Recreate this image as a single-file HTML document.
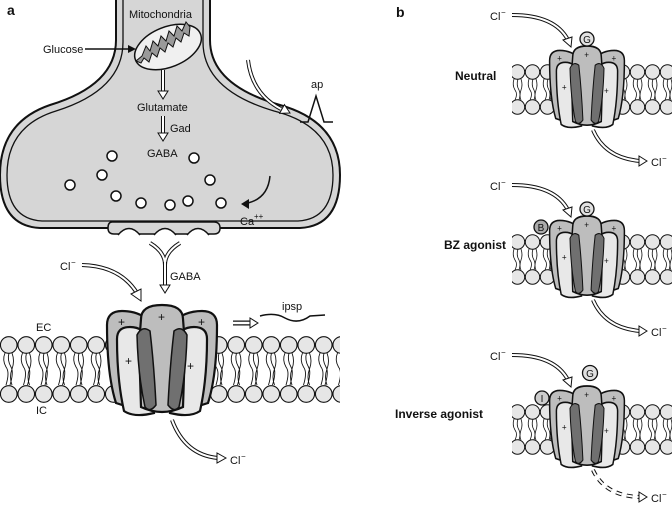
<!DOCTYPE html>
<html><head><style>
body{margin:0;background:#fff}
svg{display:block}
text{font-family:"Liberation Sans",sans-serif;fill:#111}
</style></head><body>
<svg width="672" height="515" viewBox="0 0 672 515" xmlns="http://www.w3.org/2000/svg">
<defs>
<pattern id="memA" x="0" y="336" width="17.5" height="68" patternUnits="userSpaceOnUse">
<circle cx="8.75" cy="9" r="8.3" fill="#e6e6e6" stroke="#111" stroke-width="1.1"/>
<circle cx="8.75" cy="58" r="8.3" fill="#e6e6e6" stroke="#111" stroke-width="1.1"/>
<path d="M5 17 q-3 7 1 14 q4 5 0 18 M9 17 q-2 7 2 14 q3 5 -1 18 M12 17 q3 8 0 16 q-3 8 0 16" fill="none" stroke="#111" stroke-width="0.9"/>
</pattern>
<pattern id="memB" x="0" y="64" width="15" height="52" patternUnits="userSpaceOnUse">
<circle cx="7.5" cy="8" r="7.2" fill="#e6e6e6" stroke="#111" stroke-width="1"/>
<circle cx="7.5" cy="43" r="7.2" fill="#e6e6e6" stroke="#111" stroke-width="1"/>
<path d="M4 15 q-2 6 1 11 q3 4 0 10 M8 15 q-2 6 1 11 q2 4 0 10 M11 15 q2 6 0 11 q-2 6 0 10" fill="none" stroke="#111" stroke-width="0.8"/>
</pattern>
<g id="ch">
<path d="M-55 20 Q-55 6 -40 6 Q-22 6 -10 18 L-10 102 Q-30 104 -46 98 Q-55 70 -55 20Z" fill="#bdbdbd" stroke="#111" stroke-width="2.2"/>
<path d="M55 20 Q55 6 40 6 Q22 6 10 18 L10 102 Q30 104 46 98 Q55 70 55 20Z" fill="#bdbdbd" stroke="#111" stroke-width="2.2"/>
<path d="M-45 34 Q-45 22 -32 22 Q-18 22 -12 36 L-8 108 Q-28 113 -38 106 Q-45 75 -45 34Z" fill="#e8e8e8" stroke="#111" stroke-width="2.2"/>
<path d="M45 34 Q45 22 32 22 Q18 22 12 36 L8 108 Q28 113 38 106 Q45 75 45 34Z" fill="#e8e8e8" stroke="#111" stroke-width="2.2"/>
<path d="M-21 14 Q-21 0 0 0 Q21 0 21 14 L23 40 L21 102 Q0 112 -21 102 L-23 40Z" fill="#bdbdbd" stroke="#111" stroke-width="2.2"/>
<path d="M-25 30 Q-20 20 -12 26 Q-8 60 -6 100 Q-12 108 -17 102 Q-24 70 -25 30Z" fill="#707070" stroke="#111" stroke-width="1.5"/>
<path d="M25 30 Q20 20 12 26 Q8 60 6 100 Q12 108 17 102 Q24 70 25 30Z" fill="#707070" stroke="#111" stroke-width="1.5"/>
<text x="-44" y="21" font-size="12" fill="#333">+</text>
<text x="36" y="21" font-size="12" fill="#333">+</text>
<text x="-4" y="16" font-size="12" fill="#333">+</text>
<text x="-37" y="60" font-size="12" fill="#333">+</text>
<text x="25" y="65" font-size="12" fill="#333">+</text>
</g>
</defs>

<!-- panel a terminal -->
<path d="M116 0 L116 40 Q116 85 50 105 Q0 122 0 175 Q0 226 40 228 L300 228 Q340 226 340 175 Q340 122 280 105 Q210 85 210 40 L210 0" fill="#d6d6d6" stroke="#111" stroke-width="2"/>
<path d="M123 0 L123 42 Q123 90 56 111 Q7 126 7 175 Q7 219 42 221 L298 221 Q333 219 333 175 Q333 126 274 111 Q203 90 203 42 L203 0" fill="#d6d6d6" stroke="#111" stroke-width="1.3"/>
<path d="M112 222 Q108 222 108 228 Q108 234 114 234 L214 234 Q220 234 220 228 Q220 222 214 222Z" fill="#d6d6d6" stroke="#111" stroke-width="1.5"/>
<path d="M118 235 q11 -13 22 0 M154 235 q11 -13 22 0 M187 235 q11 -13 22 0" fill="#fff" stroke="#111" stroke-width="1.5"/>
<text x="129" y="18" font-size="11">Mitochondria</text>
<ellipse cx="168" cy="47" rx="35" ry="20" transform="rotate(-22 168 47)" fill="#f0f0f0" stroke="#111" stroke-width="1.5"/>
<path d="M142 56 l4 -10 4 5 3 -10 5 5 3 -10 5 5 3 -10 5 5 3 -10 5 5 4 -9 4 5 -1 9 -5 -3 -3 9 -5 -4 -3 9 -5 -4 -3 9 -5 -4 -3 9 -5 -4 -3 9 -5 -4 -3 5 -5 -2Z" fill="#9a9a9a" stroke="#111" stroke-width="1"/>
<text x="43" y="53" font-size="11">Glucose</text>
<path d="M85 49 L130 49" stroke="#111" stroke-width="1.5"/>
<polygon points="136,49 128,45 128,53" fill="#111"/>
<path d="M163 70 L163 92" stroke="#111" stroke-width="4"/><path d="M163 70 L163 92" stroke="#fff" stroke-width="2"/>
<polygon points="163,99 158,91 168,91" fill="#fff" stroke="#111"/>
<text x="137" y="111" font-size="11">Glutamate</text>
<path d="M163 116 L163 134" stroke="#111" stroke-width="4"/><path d="M163 116 L163 134" stroke="#fff" stroke-width="2"/>
<polygon points="163,141 158,133 168,133" fill="#fff" stroke="#111"/>
<text x="170" y="132" font-size="11">Gad</text>
<text x="147" y="157" font-size="11">GABA</text>
<g fill="#fff" stroke="#111" stroke-width="1.5">
<circle cx="70" cy="185" r="5"/><circle cx="102" cy="175" r="5"/><circle cx="112" cy="156" r="5"/><circle cx="116" cy="196" r="5"/>
<circle cx="141" cy="203" r="5"/><circle cx="170" cy="205" r="5"/><circle cx="188" cy="201" r="5"/><circle cx="194" cy="158" r="5"/>
<circle cx="210" cy="180" r="5"/><circle cx="221" cy="203" r="5"/>
</g>
<path d="M270 176 Q268 198 248 203" fill="none" stroke="#111" stroke-width="1.5"/>
<polygon points="241,204 249,199 249,209" fill="#111"/>
<text x="240" y="225" font-size="11">Ca</text><text x="254" y="219" font-size="8">++</text>
<path d="M248 60 Q252 94 281 109" fill="none" stroke="#111" stroke-width="4"/><path d="M248 60 Q252 94 281 109" fill="none" stroke="#fff" stroke-width="2"/>
<polygon points="290,113 279.6,113.4 284.4,104.6" fill="#fff" stroke="#111"/>
<text x="311" y="88" font-size="11">ap</text>
<path d="M300 122 L308 122 L316 96 L324 122 L333 122" fill="none" stroke="#111" stroke-width="1.5"/>
<!-- GABA receptor Y -->
<path d="M150 243 Q165 252 165 265 M180 243 Q165 252 165 265" fill="none" stroke="#111" stroke-width="4"/>
<path d="M150 243 Q165 252 165 265 M180 243 Q165 252 165 265" fill="none" stroke="#fff" stroke-width="2"/>
<path d="M165 262 L165 286" stroke="#111" stroke-width="4"/><path d="M165 262 L165 286" stroke="#fff" stroke-width="2"/>
<polygon points="165,293 160,285 170,285" fill="#fff" stroke="#111"/>
<text x="170" y="280" font-size="11">GABA</text>
<text x="60" y="270" font-size="11">Cl</text><text x="71" y="265" font-size="8">−</text>
<path d="M82 265 Q120 266 137 293" fill="none" stroke="#111" stroke-width="4"/><path d="M82 265 Q120 266 137 293" fill="none" stroke="#fff" stroke-width="2"/>
<polygon points="141,301 131,294 141,289" fill="#fff" stroke="#111"/>
<!-- membrane a -->
<rect x="0" y="336" width="340" height="68" fill="url(#memA)"/>
<text x="36" y="331" font-size="11">EC</text>
<text x="36" y="414" font-size="11">IC</text>
<use href="#ch" transform="translate(162 305)"/>
<path d="M233 323 L252 323" stroke="#111" stroke-width="5"/><path d="M233 323 L252 323" stroke="#fff" stroke-width="2.5"/>
<polygon points="258,323 250,318 250,328" fill="#fff" stroke="#111"/>
<text x="282" y="310" font-size="11">ipsp</text>
<path d="M260 316 Q275 312 285 318 Q298 325 310 316 L325 315" fill="none" stroke="#111" stroke-width="1.5"/>
<path d="M172 420 Q185 455 218 458" fill="none" stroke="#111" stroke-width="4"/><path d="M172 420 Q185 455 218 458" fill="none" stroke="#fff" stroke-width="2"/>
<polygon points="226,458 217,453 217,463" fill="#fff" stroke="#111"/>
<text x="230" y="464" font-size="11">Cl</text><text x="241" y="459" font-size="8">−</text>
<text x="7" y="15" font-size="14" font-weight="bold">a</text>
<text x="396" y="17" font-size="14" font-weight="bold">b</text>

<!-- panel b rows -->
<g>
<text x="455" y="80" font-size="12" font-weight="bold">Neutral</text>
<text x="444" y="249" font-size="12" font-weight="bold">BZ agonist</text>
<text x="395" y="418" font-size="12" font-weight="bold">Inverse agonist</text>
</g>
<g id="rowb">
<rect x="512" y="64" width="160" height="52" fill="url(#memB)"/>
<text x="490" y="20" font-size="11">Cl</text><text x="501" y="15" font-size="8">−</text>
<path d="M512 15 Q555 15 568 40" fill="none" stroke="#111" stroke-width="4"/><path d="M512 15 Q555 15 568 40" fill="none" stroke="#fff" stroke-width="2"/>
<polygon points="571,47 563,40 572,37" fill="#fff" stroke="#111"/>
</g>
<use href="#rowb" transform="translate(0 170)"/>
<use href="#rowb" transform="translate(0 340)"/>
<use href="#ch" transform="translate(587 46) scale(0.68 0.74)"/>
<use href="#ch" transform="translate(587 216) scale(0.68 0.74)"/>
<use href="#ch" transform="translate(587 386) scale(0.68 0.74)"/>
<g fill="#e0e0e0" stroke="#111" stroke-width="1.3">
<circle cx="587" cy="39" r="7"/><circle cx="587" cy="209" r="7"/><circle cx="590" cy="373" r="7.5"/>
<circle cx="541" cy="227" r="7" fill="#aaa"/><circle cx="542" cy="398" r="7" fill="#ccc"/>
</g>
<g font-size="10" text-anchor="middle">
<text x="587" y="43">G</text><text x="587" y="213">G</text><text x="590" y="377">G</text>
<text x="541" y="231">B</text><text x="542" y="402">I</text>
</g>
<!-- exit arrows b -->
<g fill="none">
<path d="M593 130 Q605 158 640 161" stroke="#111" stroke-width="4"/><path d="M593 130 Q605 158 640 161" stroke="#fff" stroke-width="2"/>
<path d="M593 300 Q605 328 640 331" stroke="#111" stroke-width="4"/><path d="M593 300 Q605 328 640 331" stroke="#fff" stroke-width="2"/>
<path d="M593 470 Q605 496 640 497" stroke="#111" stroke-width="4" stroke-dasharray="6 5"/><path d="M593 470 Q605 496 640 497" stroke="#fff" stroke-width="2" stroke-dasharray="6 5"/>
</g>
<polygon points="647,161 639,156 639,166" fill="#fff" stroke="#111"/>
<polygon points="647,331 639,326 639,336" fill="#fff" stroke="#111"/>
<polygon points="647,497 639,492 639,502" fill="#fff" stroke="#111"/>
<text x="651" y="166" font-size="11">Cl</text><text x="662" y="161" font-size="8">−</text>
<text x="651" y="336" font-size="11">Cl</text><text x="662" y="331" font-size="8">−</text>
<text x="651" y="502" font-size="11">Cl</text><text x="662" y="497" font-size="8">−</text>
</svg>
</body></html>
